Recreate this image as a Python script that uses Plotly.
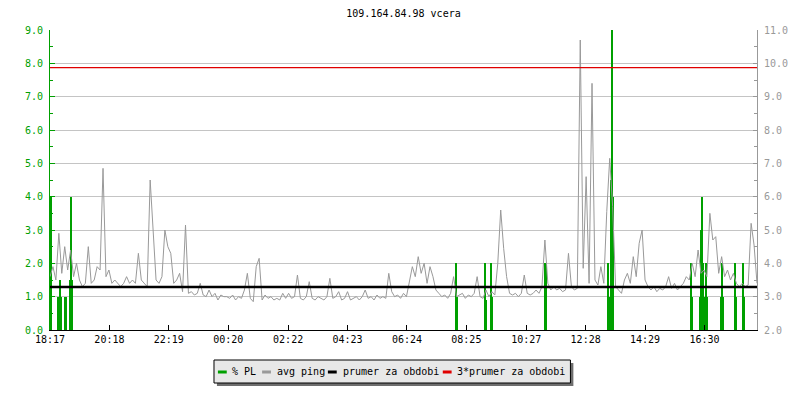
import plotly.graph_objects as go
import pandas as pd

# ---------------- data ----------------
title_text = "109.164.84.98 vcera"
start_time = "2024-01-01 18:17"
sample_minutes = 6
span_minutes = 1440

tick_labels = ["18:17", "20:18", "22:19", "00:20", "02:22", "04:23",
               "06:24", "08:25", "10:27", "12:28", "14:29", "16:30"]

# avg ping (right axis units), one value every 6 minutes from 18:17
avg_ping = [
    3.6, 3.9, 3.5, 4.9, 3.7, 4.5, 3.8, 4.4, 3.6, 4.0,
    3.5, 3.3, 3.4, 4.5, 3.4, 3.5, 3.9, 3.8, 6.85, 3.6,
    3.8, 3.4, 3.5, 3.4, 3.3, 3.4, 3.6, 3.4, 3.5, 3.4,
    4.3, 3.5, 3.4, 3.3, 6.5, 4.9, 3.5, 3.4, 3.6, 5.0,
    4.5, 4.3, 3.4, 3.5, 3.7, 3.15, 5.15, 3.1, 3.15, 3.05,
    3.1, 3.4, 3.05, 3.0, 3.2, 3.0, 3.1, 2.9, 3.05, 3.0,
    3.0, 2.95, 3.05, 2.9, 3.0, 2.95, 3.2, 3.7, 2.95, 2.85,
    3.9, 4.15, 2.9, 3.05, 2.95, 3.0, 2.9, 2.95, 2.9, 3.1,
    2.95, 3.1, 2.95, 3.0, 3.65, 2.95, 2.9, 3.0, 3.45, 2.95,
    2.9, 3.0, 2.95, 2.9, 3.0, 3.55, 2.95, 3.0, 3.15, 2.9,
    2.95, 3.15, 2.9, 2.95, 3.0, 2.9, 3.0, 3.2, 2.95, 3.0,
    2.9, 3.05, 2.95, 3.0, 2.95, 3.7, 3.15, 3.0, 3.05, 2.95,
    3.1, 3.0, 3.5, 3.9, 3.6, 4.2, 3.7, 4.0, 3.4, 3.9,
    3.6, 3.2, 3.1, 3.0, 3.05, 2.95, 3.1, 3.6, 3.0, 3.05,
    3.1, 2.95, 3.05, 3.0, 3.1, 3.6, 3.0, 2.95, 3.2, 3.0,
    3.15, 3.05, 4.0, 5.6, 4.45, 3.6, 3.1, 3.05, 3.1, 3.0,
    3.1, 3.65, 3.1, 3.05, 3.1, 3.2, 3.1, 3.3, 4.7, 3.4,
    3.2, 3.3, 3.2, 3.25, 3.15, 3.2, 4.3, 3.3, 3.2, 3.25,
    10.7, 3.85, 6.6, 3.4, 9.4, 3.5, 3.35, 3.9, 3.4, 5.55,
    7.15, 5.7, 3.3, 3.2, 3.1, 3.5, 3.7, 3.4, 4.2, 3.6,
    4.6, 5.0, 3.5, 3.3, 3.2, 3.3, 3.15, 3.25, 3.2, 3.3,
    3.6, 3.25, 3.4, 3.2, 3.3, 3.4, 3.6, 3.5, 4.0, 3.6,
    4.4, 3.7, 3.8, 3.6, 5.5, 4.7, 4.8, 3.7, 4.2, 3.6,
    3.8, 3.5, 3.7, 3.4, 3.3, 3.4, 3.3, 3.35, 5.2, 4.55,
    3.4,
]

# packet loss events (% PL, left axis)
pl_times = ["18:19", "18:33", "18:35", "18:37", "18:39", "18:47", "18:49",
            "18:57", "18:59", "19:01",
            "08:03", "08:05", "09:03", "09:05", "09:15", "09:17",
            "11:05", "11:07",
            "13:13", "13:15", "13:19", "13:21", "13:23",
            "16:03", "16:05", "16:21", "16:23", "16:25", "16:27", "16:29",
            "16:31", "16:33", "16:35",
            "17:03", "17:05", "17:07", "17:33", "17:35", "17:49", "17:51"]
pl_values = [4.0, 1.0, 1.0, 1.5, 1.0, 1.0, 1.0,
             1.5, 4.0, 1.5,
             2.0, 1.0, 2.0, 0.9, 2.0, 1.0,
             2.0, 2.0,
             2.0, 1.0, 4.5, 9.0, 4.0,
             2.0, 1.0, 1.0, 3.0, 4.0, 2.0, 1.0,
             1.0, 2.0, 1.0,
             1.0, 2.0, 1.0, 2.0, 1.0, 2.0, 1.0]

prumer = 3.29  # average ping for the period

legend_names = ["% PL", "avg ping", "prumer za obdobi", "3*prumer za obdobi"]

# ---------------- styling ----------------
GREEN = "#00a000"
GRAY = "#999999"
FONT = "DejaVu Sans Mono"

t0 = pd.Timestamp(start_time)
t_end = t0 + pd.Timedelta(minutes=span_minutes)
ping_x = pd.date_range(t0, periods=len(avg_ping), freq=f"{sample_minutes}min")


def clock_to_dt(s):
    t = pd.Timestamp(f"{t0.date()} {s}")
    if t < t0:
        t += pd.Timedelta(days=1)
    return t


pl_x = [clock_to_dt(s) for s in pl_times]
tick_x = [clock_to_dt(s) for s in tick_labels]

fig = go.Figure()

fig.add_trace(go.Bar(
    x=pl_x, y=pl_values, yaxis="y", name=legend_names[0],
    width=[2 * 60 * 1000] * len(pl_x),
    marker=dict(color=GREEN, line=dict(width=0)),
    showlegend=False,
))
fig.add_trace(go.Scatter(
    x=ping_x, y=avg_ping, yaxis="y2", mode="lines", name=legend_names[1],
    line=dict(color=GRAY, width=1), showlegend=False,
))
fig.add_trace(go.Scatter(
    x=[t0, t_end], y=[prumer, prumer], yaxis="y2", mode="lines",
    name=legend_names[2], line=dict(color="black", width=2.5), showlegend=False,
))
fig.add_trace(go.Scatter(
    x=[t0, t_end], y=[3 * prumer, 3 * prumer], yaxis="y2", mode="lines",
    name=legend_names[3], line=dict(color="#e00000", width=1.3), showlegend=False,
))

# plot area geometry (pixels)
L, R, T, B = 50, 30, 30, 70
W, H = 800, 400
PW, PH = W - L - R, H - T - B


def px(x):
    return (x - L) / PW


def py(y):
    return (H - B - y) / PH


# manual legend box (with shadow)
shapes = [
    dict(type="rect", xref="paper", yref="paper", x0=px(220), x1=px(583),
         y0=py(386), y1=py(363), fillcolor="#6e6e6e", line=dict(width=0), layer="above"),
    dict(type="rect", xref="paper", yref="paper", x0=px(217), x1=px(580),
         y0=py(383), y1=py(360), fillcolor="#e8e8e8",
         line=dict(color="black", width=1), layer="above"),
]
legend_items = [(221, 233, GREEN), (266, 279, GRAY), (333, 346, "black"), (450, 462, "#e00000")]
annotations = []
for name, (lx, tx, col) in zip(legend_names, legend_items):
    shapes.append(dict(type="line", xref="paper", yref="paper", x0=px(lx), x1=px(lx + 9),
                       y0=py(372), y1=py(372), line=dict(color=col, width=3), layer="above"))
    annotations.append(dict(xref="paper", yref="paper", x=px(tx), y=py(371.5),
                            xanchor="left", yanchor="middle", text=name, showarrow=False,
                            font=dict(family=FONT, size=10, color="black")))

fig.update_layout(
    width=W, height=H,
    margin=dict(l=L, r=R, t=T, b=B),
    paper_bgcolor="white", plot_bgcolor="white",
    font=dict(family=FONT, size=10, color="black"),
    title=dict(text=title_text, x=0.5, xref="paper", xanchor="center",
               y=1 - 13 / H, yref="container", yanchor="middle",
               font=dict(family=FONT, size=10, color="black")),
    showlegend=False,
    bargap=0,
    xaxis=dict(
        type="date", range=[t0, t_end],
        tickmode="array", tickvals=tick_x, ticktext=tick_labels,
        ticks="inside", ticklen=5, tickcolor="black",
        showline=True, linecolor="black", linewidth=1,
        showgrid=False, zeroline=False,
        tickfont=dict(family=FONT, size=10, color="black"),
    ),
    yaxis=dict(
        range=[0, 9], dtick=1, tick0=0, tickformat=".1f",
        ticks="inside", ticklen=5, tickcolor=GREEN,
        showline=True, linecolor=GREEN, linewidth=1,
        showgrid=True, gridcolor="#c4c4c4", gridwidth=1, zeroline=False,
        tickfont=dict(family=FONT, size=10, color=GREEN),
        ticklabelstandoff=4,
        minor=dict(dtick=0.5, ticks="inside", ticklen=3, tickcolor=GREEN, showgrid=False),
    ),
    yaxis2=dict(
        range=[2, 11], dtick=1, tick0=2, tickformat=".1f",
        overlaying="y", side="right", anchor="x",
        ticks="inside", ticklen=4, tickcolor=GRAY,
        showline=True, linecolor=GRAY, linewidth=1,
        showgrid=False, zeroline=False,
        tickfont=dict(family=FONT, size=10, color=GRAY),
        ticklabelstandoff=4,
        minor=dict(dtick=0.5, ticks="inside", ticklen=3, tickcolor=GRAY, showgrid=False),
    ),
    shapes=shapes,
    annotations=annotations,
)

fig.write_html("out.html", post_script="document.body.style.margin='0';",
               config={"displayModeBar": False})
